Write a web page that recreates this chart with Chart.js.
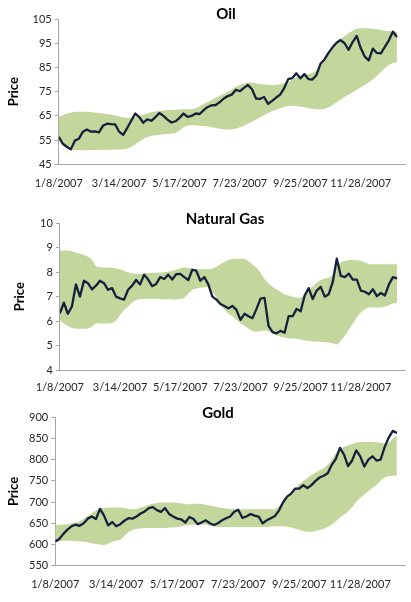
<!DOCTYPE html>
<html><head><meta charset="utf-8">
<script src="https://cdn.jsdelivr.net/npm/chart.js@4/dist/chart.umd.min.js"></script>
<style>
html,body{margin:0;padding:0;background:#fff;}
body{width:411px;height:602px;position:relative;overflow:hidden;font-family:Lato,'Open Sans',sans-serif;}
.panel{position:absolute;left:0;width:411px;}
.ttl{position:absolute;font-weight:bold;font-size:15px;line-height:18px;color:#000;transform:translateX(-50%);white-space:nowrap;}
</style></head><body>
<div class="panel" style="top:0;height:212px"><canvas id="c0"></canvas></div>
<div class="panel" style="top:204px;height:212px"><canvas id="c1"></canvas></div>
<div class="panel" style="top:399px;height:215px"><canvas id="c2"></canvas></div>
<div class="ttl" style="left:226px;top:4px">Oil</div>
<div class="ttl" style="left:225px;top:209px">Natural Gas</div>
<div class="ttl" style="left:218px;top:403px">Gold</div>
<script>
const tickLabels = ['1/8/2007','3/14/2007','5/17/2007','7/23/2007','9/25/2007','11/28/2007'];
const labelStep = 15;
const lastIndex = 86;
const dayIndex = Array.from({length: lastIndex + 1}, (_, i) => i);

const oilPrice = [56.4,53.5,52.3,51.2,54.8,55.6,58.5,59.4,58.5,58.6,
 58.2,61,61.8,61.6,61.5,58.5,57.2,60,63,66,
 64.5,62.2,63.6,63,64.5,66.2,65,63.5,62.3,62.8,
 64.2,66,64.6,65,66,65.8,67.4,68.7,69.4,69.5,
 70.7,72.2,73.2,73.8,75.8,75.2,76.6,77.8,76,72.2,
 72,72.8,70,71.2,72.6,73.8,76.5,80.2,80.6,82.6,
 80.5,82.3,80.2,80,81.8,86.5,88.3,91,93.3,95.2,
 96.3,95,92.3,95.5,98,93,89.5,87.9,92.8,91,
 90.8,93.5,96.2,99.8,97.6];
const oilUpper = [64.6,65.3,66,66.4,66.6,66.7,66.7,66.7,66.6,66.4,
 66.2,66,65.8,65.5,65.2,64.8,64.5,64.2,64.4,64.7,
 65,65.5,66,66.5,66.8,67,67.2,67.4,67.5,67.6,
 67.7,67.8,67.8,67.8,68.2,69,70,70.8,71.6,72.5,
 73.3,74,75,76,77,77.8,78.3,78.8,78.8,78.5,
 78.2,78,77.8,77.8,77.9,78.1,78.6,79,80,81,
 81.5,82,82.3,82.8,83.8,85.5,88,90.5,93,95,
 96.8,98,99.2,100.2,101,101.2,101.2,101.1,101,100.8,
 100.5,100.2,100,99.8,99.6];
const oilLower = [55,53,51.8,51.2,50.9,50.8,50.8,50.8,50.8,50.9,
 50.9,51,51,51,51.1,51.2,51.3,51.5,52.2,53.2,
 54.5,55.5,56.2,56.7,57,57.2,57.4,57.5,57.6,58,
 59,60.3,61,61.3,61.2,61,60.8,60.6,60.3,60,
 59.7,59.5,59.4,59.5,59.8,60.3,61,61.8,62.6,63.5,
 64.5,65.3,66.2,67,67.6,68.2,68.8,69.2,69.2,69,
 68.8,68.6,68.3,68,67.8,67.8,67.9,68.5,69.5,70.5,
 71.8,72.8,73.8,74.8,75.8,76.8,77.8,78.8,80,81.5,
 83,84.8,86,86.8,87.2];

const gasPrice = [6.32,6.75,6.3,6.6,7.5,7.0,7.65,7.55,7.3,7.45,
 7.65,7.55,7.28,7.35,7.0,6.93,6.88,7.28,7.45,7.68,
 7.5,7.9,7.7,7.43,7.52,7.8,7.72,7.9,7.7,7.92,
 7.93,7.8,7.68,8.1,8.06,7.65,7.8,7.5,7.0,6.88,
 6.7,6.62,6.52,6.62,6.46,6.05,6.3,6.2,6.12,6.5,
 6.92,6.95,5.8,5.55,5.5,5.6,5.52,6.2,6.2,6.5,
 6.4,7.05,7.35,6.9,7.25,7.4,7.0,7.1,7.6,8.55,
 7.85,7.8,7.94,7.7,7.7,7.25,7.2,7.1,7.3,7.02,
 7.15,7.05,7.5,7.8,7.75];
const gasUpper = [8.89,8.89,8.89,8.86,8.8,8.76,8.7,8.63,8.52,8.25,
 8.2,8.19,8.19,8.18,8.15,8.12,8.05,8.0,7.95,7.94,
 7.94,7.95,7.96,7.97,7.98,7.99,8.0,8.02,8.06,8.1,
 8.16,8.19,8.17,8.14,8.12,8.12,8.12,8.12,8.14,8.22,
 8.33,8.42,8.5,8.54,8.55,8.55,8.55,8.45,8.32,8.18,
 7.98,7.72,7.55,7.4,7.29,7.2,7.1,7.05,7.0,6.96,
 6.97,7.08,7.28,7.42,7.58,7.68,7.74,7.78,7.9,8.25,
 8.4,8.46,8.5,8.5,8.49,8.47,8.4,8.34,8.33,8.33,
 8.33,8.33,8.33,8.33,8.33];
const gasLower = [6.04,5.9,5.8,5.72,5.69,5.69,5.69,5.69,5.78,5.9,
 5.9,5.9,5.9,5.92,6.02,6.25,6.45,6.6,6.75,6.86,
 6.89,6.9,6.9,6.9,6.9,6.9,6.89,6.89,6.88,6.88,
 6.9,6.96,7.12,7.28,7.33,7.36,7.38,7.39,7.2,6.98,
 6.65,6.48,6.3,6.2,6.05,5.92,5.8,5.7,5.6,5.56,
 5.58,5.62,5.58,5.5,5.42,5.36,5.32,5.3,5.29,5.28,
 5.25,5.22,5.19,5.17,5.16,5.15,5.14,5.12,5.09,5.04,
 5.2,5.4,5.65,5.9,6.15,6.35,6.48,6.56,6.56,6.56,
 6.56,6.6,6.65,6.72,6.74];

const goldPrice = [607,613,625,635,643,647,644,650,661,666,
 660,684,668,645,653,643,648,656,662,661,
 666,673,678,686,688,681,677,686,672,666,
 661,659,652,665,660,648,652,657,650,646,
 650,657,662,666,677,682,663,666,672,668,
 666,650,657,662,667,680,699,713,720,732,
 732,740,733,740,750,758,762,768,788,802,
 828,812,785,798,822,808,784,800,808,798,
 800,830,852,868,863];
const goldUpper = [646,646,647,648,650,652,655,661,667,674,
 680,685,686,687,687,687,687,686,684,683,
 684,687,690,693,696,698,699,699,699,699,
 698,697,695,695,696,696,696,694,692,690,
 688,686,685,684,683,683,683,683,683,683,
 683,683,683,683,683,690,702,712,722,732,
 742,750,757,764,769,775,780,788,800,815,
 825,830,834,837,840,842,842,842,842,841,
 840,838,840,850,856];
const goldLower = [607,608,609,609,609,608,607,607,605,603,
 601,600,599,602,607,609,611,620,629,634,
 637,638,639,639,639,639,639,639,640,640,
 641,643,645,646,647,647,647,647,645,643,
 641,641,641,641,641,641,641,641,641,641,
 641,641,641,643,643,643,643,642,640,637,
 635,632,630,630,632,634,637,641,647,655,
 663,670,678,688,700,710,718,726,733,741,
 750,758,761,762,763];

const axisGray = '#A6A6A6';
const textColor = '#262626';
const lineColor = '#15213C';
const bandColor = '#C3D69B';
const tickFont = {family: 'Lato', size: 11};

function makeChart(id, price, upper, lower, yMin, yMax, yStep, pad, titleGap, tickPad) {
  new Chart(document.getElementById(id), {
    type: 'line',
    data: {
      labels: dayIndex,
      datasets: [
        {data: price, borderColor: lineColor, borderWidth: 2.3, pointRadius: 0, fill: false, tension: 0, borderJoinStyle: 'round'},
        {data: upper, borderWidth: 0, borderColor: 'rgba(0,0,0,0)', backgroundColor: bandColor, pointRadius: 0, fill: '+1', tension: 0.3},
        {data: lower, borderWidth: 0, borderColor: 'rgba(0,0,0,0)', backgroundColor: bandColor, pointRadius: 0, fill: false, tension: 0.3}
      ]
    },
    options: {
      responsive: true, maintainAspectRatio: false, animation: false,
      layout: {padding: pad},
      plugins: {legend: {display: false}, tooltip: {enabled: false}, title: {display: false}},
      scales: {
        x: {
          type: 'linear', min: 0, max: lastIndex,
          grid: {display: false, drawTicks: false, tickLength: 0},
          border: {display: true, color: axisGray, width: 1},
          afterBuildTicks: axis => {
            axis.ticks = tickLabels.map((_, k) => ({value: k * labelStep}));
          },
          ticks: {autoSkip: false, maxRotation: 0, minRotation: 0, padding: tickPad, align: 'center',
            font: tickFont, color: textColor,
            callback: v => tickLabels[Math.round(v / labelStep)]}
        },
        y: {
          min: yMin, max: yMax,
          grid: {display: true, drawOnChartArea: false, drawTicks: true, tickLength: 4, color: axisGray},
          border: {display: true, color: axisGray, width: 1},
          ticks: {stepSize: yStep, padding: 3, font: tickFont, color: textColor},
          title: {display: true, text: 'Price', color: '#000', font: {family: 'Lato', size: 13, weight: 'bold'}, padding: {top: 0, bottom: titleGap}}
        }
      }
    }
  });
}

makeChart('c0', oilPrice, oilUpper, oilLower, 45, 105, 10, {top: 19, bottom: 9.6, left: 6, right: 6}, 8, 12.4);
makeChart('c1', gasPrice, gasUpper, gasLower, 4, 10, 1, {top: 19.3, bottom: 10.6, left: 12, right: 6}, 9.5, 11.1);
makeChart('c2', goldPrice, goldUpper, goldLower, 550, 900, 50, {top: 18.3, bottom: 10.9, left: 6, right: 6}, 4.5, 12.1);
</script>
</body></html>
